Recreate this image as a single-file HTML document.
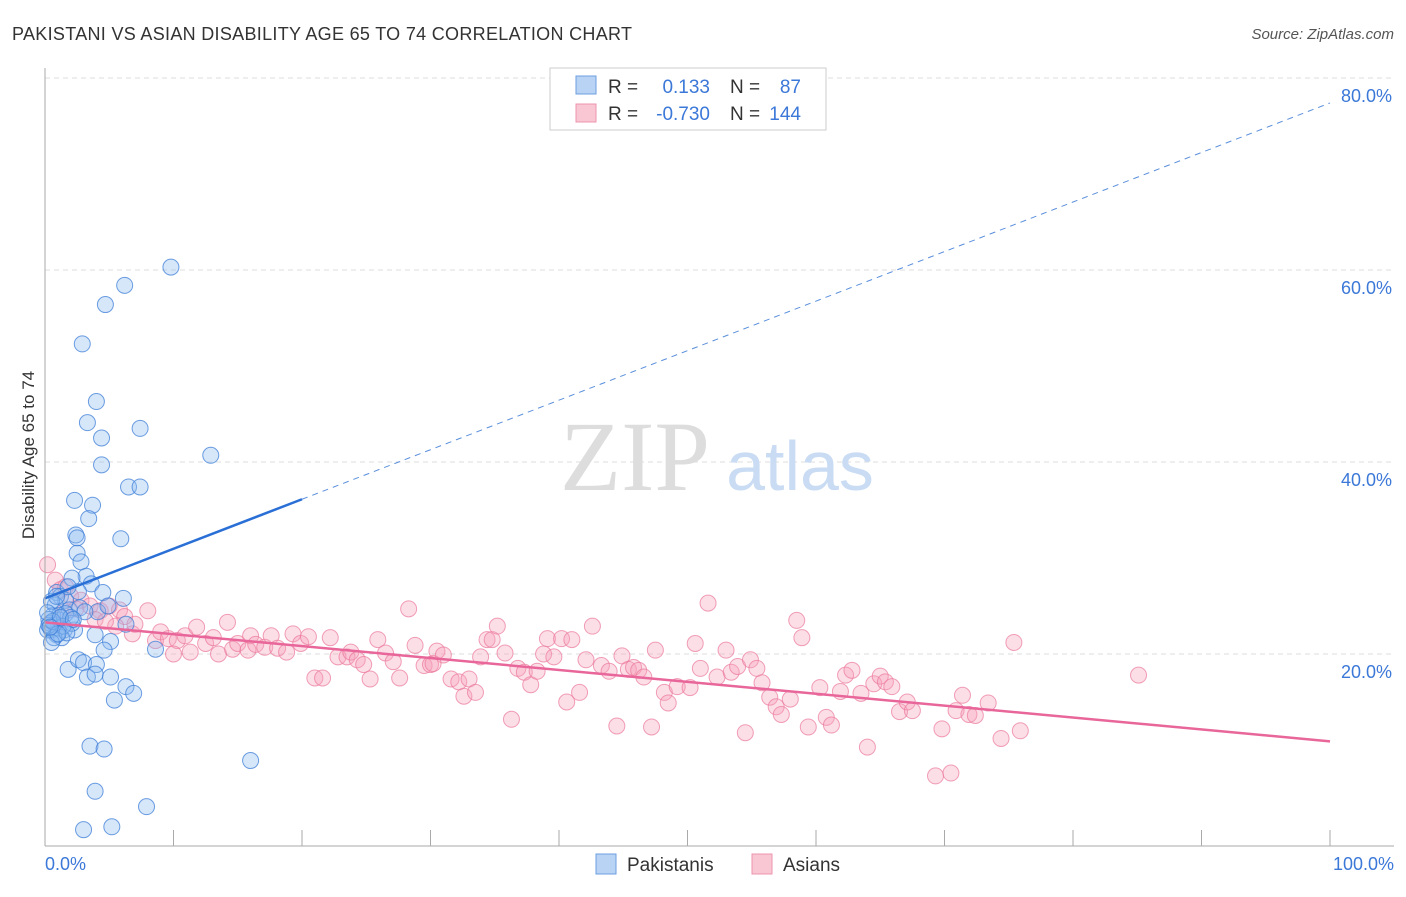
<!DOCTYPE html>
<html><head><meta charset="utf-8"><style>
body{margin:0;background:#fff;font-family:"Liberation Sans",sans-serif;}
svg text{font-family:"Liberation Sans",sans-serif;}
</style></head><body>
<svg id="chart" width="1406" height="892" xmlns="http://www.w3.org/2000/svg">
<text x="12" y="40" font-size="18" fill="#333" textLength="620">PAKISTANI VS ASIAN DISABILITY AGE 65 TO 74 CORRELATION CHART</text>
<text x="1394" y="39" font-size="15" fill="#555" font-style="italic" text-anchor="end">Source: ZipAtlas.com</text>
<g id="grid"></g>
<text x="635" y="490" font-size="100" fill="#ddd" style="font-family:'Liberation Serif',serif" text-anchor="middle">ZIP</text>
<text x="800" y="490" font-size="70" fill="#c9dcf3" text-anchor="middle">atlas</text>
<g id="pink"></g>
<g id="blue"></g>
<g id="trend"></g>
<g id="axes"></g>
<text transform="translate(34,455) rotate(-90)" font-size="17" fill="#333" text-anchor="middle">Disability Age 65 to 74</text>
<g>
<rect x="550" y="68" width="276" height="62" fill="#fff" stroke="#ccc"/>
<rect x="576" y="76" width="20" height="18" fill="#b9d3f5" stroke="#6c9fe0"/>
<rect x="576" y="104" width="20" height="18" fill="#f9c6d4" stroke="#ec94ae"/>
<text x="608" y="93" font-size="19" fill="#333">R =</text><text x="710" y="93" font-size="19" fill="#3b78d8" text-anchor="end">0.133</text>
<text x="730" y="93" font-size="19" fill="#333">N =</text><text x="801" y="93" font-size="19" fill="#3b78d8" text-anchor="end">87</text>
<text x="608" y="120" font-size="19" fill="#333">R =</text><text x="710" y="120" font-size="19" fill="#3b78d8" text-anchor="end">-0.730</text>
<text x="730" y="120" font-size="19" fill="#333">N =</text><text x="801" y="120" font-size="19" fill="#3b78d8" text-anchor="end">144</text>
</g>
<g>
<rect x="596" y="854" width="20" height="20" fill="#b9d3f5" stroke="#6c9fe0"/>
<text x="627" y="871" font-size="19" fill="#333">Pakistanis</text>
<rect x="752" y="854" width="20" height="20" fill="#f9c6d4" stroke="#ec94ae"/>
<text x="783" y="871" font-size="19" fill="#333">Asians</text>
</g>
</svg>
<script>
const yTicks=[20,40,60,80];
const yTickLabels=["20.0%","40.0%","60.0%","80.0%"];
const xTickLabels=["0.0%","100.0%"];
const blueX=[9.8,6.2,4.7,2.9,4.0,3.3,7.4,4.4,12.9,4.4,6.5,7.4,2.3,3.7,3.4,2.4,2.5,5.9,2.5,2.8,3.2,2.1,3.6,4.5,6.1,0.9,1.2,1.6,0.8,1.9,2.7,4.1,1.2,0.8,0.5,1.5,2.3,0.9,3.9,6.3,5.1,8.6,4.6,1.8,2.6,3.0,4.0,3.3,3.9,5.1,6.3,6.9,5.4,3.5,4.6,16.0,3.9,7.9,3.0,5.2,0.6,1.0,0.4,1.6,2.1,0.2,1.3,0.7,0.5,1.1,3.1,2.0,0.3,1.4,0.9,2.6,1.8,4.9,0.5,1.7,0.3,0.6,1.0,0.2,1.2,0.4,2.2];
const blueY=[60.3,58.4,56.4,52.3,46.3,44.1,43.5,42.5,40.7,39.7,37.4,37.4,36.0,35.5,34.1,32.4,32.1,32.0,30.5,29.6,28.1,27.9,27.3,26.4,25.8,26.4,26.0,25.6,25.1,24.6,24.8,24.4,23.5,23.0,22.5,22.5,22.5,22.0,22.0,23.1,21.3,20.5,20.4,18.4,19.4,19.1,18.9,17.6,17.9,17.6,16.6,15.9,15.2,10.4,10.1,8.9,5.7,4.1,1.7,2.0,24.0,22.7,23.2,24.2,23.2,22.5,21.7,21.7,25.5,24.0,24.4,23.8,23.6,22.9,26.0,26.5,27.0,25.0,21.2,22.2,23.0,23.4,22.1,24.3,23.8,22.8,23.6];
const pinkX=[0.2,0.8,1.2,1.6,2.0,2.8,3.5,4.3,5.0,5.8,6.2,1.5,2.4,3.9,5.5,6.8,7.0,8.0,8.6,9.0,9.6,10.3,10.9,11.3,11.8,12.5,13.1,13.5,14.2,14.6,15.0,15.8,16.0,16.4,17.1,17.6,18.1,18.8,19.3,19.9,20.5,21.0,21.6,22.2,22.8,23.5,23.8,24.3,24.8,25.3,25.9,26.5,27.1,27.6,28.3,28.8,29.5,30.0,30.5,31.0,31.6,32.2,32.6,33.0,33.5,33.9,34.4,34.8,35.2,35.8,36.3,36.8,37.3,37.8,38.3,38.8,39.1,39.6,40.2,40.6,41.0,41.6,42.1,42.6,43.3,43.9,44.5,44.9,45.4,45.8,46.2,46.6,47.2,47.5,48.2,48.5,49.2,50.2,50.6,51.0,51.6,52.3,53.0,53.4,53.9,54.5,54.9,55.4,55.8,56.4,56.9,57.3,58.0,58.5,58.9,59.4,60.3,60.8,61.2,61.9,62.3,62.8,63.5,64.0,64.5,65.0,65.4,65.9,66.5,67.1,67.5,69.3,69.8,70.5,70.9,71.4,71.9,72.4,73.4,74.4,75.4,75.9,85.1,30.2,10.0,4.7];
const pinkY=[29.3,27.7,26.7,27.0,26.0,25.6,25.0,24.5,25.0,24.6,23.9,24.4,24.7,23.6,22.9,22.1,23.1,24.5,21.4,22.3,21.6,21.4,21.9,20.2,22.8,21.1,21.7,20.0,23.3,20.5,21.1,20.4,21.9,21.0,20.7,21.9,20.6,20.2,22.1,21.1,21.8,17.5,17.5,21.7,19.7,19.7,20.2,19.4,18.9,17.4,21.5,20.1,19.2,17.5,24.7,20.9,18.8,18.9,20.3,19.9,17.4,17.1,15.6,17.4,16.0,19.7,21.5,21.5,22.9,20.1,13.2,18.5,18.1,16.8,18.2,20.0,21.6,19.7,21.6,15.0,21.5,16.0,19.4,22.9,18.8,18.2,12.5,19.8,18.4,18.6,18.3,17.6,12.4,20.4,16.0,14.9,16.6,16.5,21.1,18.5,25.3,17.6,20.4,18.1,18.7,11.8,19.4,18.5,17.0,15.5,14.5,13.7,15.3,23.5,21.7,12.4,16.5,13.4,12.6,16.1,17.8,18.3,15.9,10.3,16.9,17.7,17.1,16.6,14.0,15.0,14.1,7.3,12.2,7.6,14.1,15.7,13.7,13.6,14.9,11.2,21.2,12.0,17.8,19.0,20.0,23.4];
const blueTrend=[25.8,77.4];
const pinkTrend=[23.3,10.9];
const NS="http://www.w3.org/2000/svg";
const X0=45,X1=1330,Y0=846,PX=9.6;
function sx(v){return X0+(X1-X0)*v/100;}
function sy(v){return Y0-v*PX;}
function mk(tag,attrs,parent){const e=document.createElementNS(NS,tag);for(const k in attrs)e.setAttribute(k,attrs[k]);parent.appendChild(e);return e;}
const grid=document.getElementById('grid');
yTicks.forEach((t,i)=>{
 const l=mk('line',{x1:X0,x2:1394,y1:sy(t),y2:sy(t),stroke:'#ddd','stroke-dasharray':'5,4'},grid);
 
 
 const tx=mk('text',{x:1392,y:sy(t)+24,'font-size':18,fill:'#3b78d8','text-anchor':'end'},grid);
 tx.textContent=yTickLabels[i];
 
 
});
const axes=document.getElementById('axes');
const ya=mk('line',{x1:X0,x2:X0,y1:68,y2:Y0,stroke:'#aaa'},axes);


const xa=mk('line',{x1:X0,x2:1394,y1:Y0,y2:Y0,stroke:'#aaa'},axes);


for(let i=0;i<=10;i++){
 const tk=mk('line',{x1:sx(i*10),x2:sx(i*10),y1:Y0,y2:Y0-16,stroke:'#aaa'},axes);
 
 
}
[[0,'start',45],[100,'end',1394]].forEach((d,i)=>{
 const t=mk('text',{x:d[2],y:870,'font-size':18,fill:'#3b78d8','text-anchor':d[1]},axes);
 t.textContent=xTickLabels[i];
 
 
});
const pg=document.getElementById('pink');
pinkX.forEach((x,i)=>{
 const c=mk('circle',{cx:sx(x),cy:sy(pinkY[i]),r:8,fill:'rgba(245,160,185,0.35)',stroke:'rgba(235,120,155,0.7)','stroke-width':1},pg);
 
 
});
const bg=document.getElementById('blue');
blueX.forEach((x,i)=>{
 const c=mk('circle',{cx:sx(x),cy:sy(blueY[i]),r:8,fill:'rgba(140,185,240,0.35)',stroke:'rgba(60,125,215,0.75)','stroke-width':1},bg);
 
 
});
const tg=document.getElementById('trend');
function bAt(v){return blueTrend[0]+(blueTrend[1]-blueTrend[0])*v/100;}
const bs=mk('line',{x1:sx(0),y1:sy(bAt(0)),x2:sx(20),y2:sy(bAt(20)),stroke:'#2a6fd6','stroke-width':2.5},tg);


const bd=mk('line',{x1:sx(20),y1:sy(bAt(20)),x2:sx(100),y2:sy(bAt(100)),stroke:'#5a8fdc','stroke-width':1,'stroke-dasharray':'6,5'},tg);


const pl=mk('line',{x1:sx(0),y1:sy(pinkTrend[0]),x2:sx(100),y2:sy(pinkTrend[1]),stroke:'#e8669a','stroke-width':2.5},tg);


</script>
</body></html>
